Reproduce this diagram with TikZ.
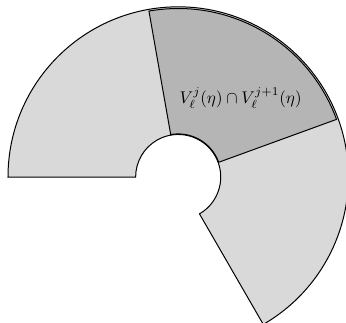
\documentclass[tikz,border=0pt]{standalone}
\usepackage{amsmath,amssymb}
\usepackage{tikz}
\definecolor{sectorlight}{gray}{0.85}
\definecolor{sectordark}{gray}{0.71}

\begin{document}
\begin{tikzpicture}[
    ring/.style={draw=black, line width=0.5pt},
    lightsec/.style={ring, fill=sectorlight},
    darksec/.style={ring, fill=sectordark}]
    \useasboundingbox (-3.141,-2.573) rectangle (2.958,3.12);
    \draw[lightsec] (180:3) arc (180:-60:3) -- (-60:0.75) arc (-60:180:0.75) -- cycle;
    \draw[darksec]  (100:2.97) arc (100:20:2.97) -- (20:0.76) arc (20:100:0.76) -- cycle;
    \node[scale=0.85] (cap) at (1.10,1.39) {$V_\ell^j(\eta)\cap V_\ell^{j+1}(\eta)$};
  \end{tikzpicture}
\end{document}
